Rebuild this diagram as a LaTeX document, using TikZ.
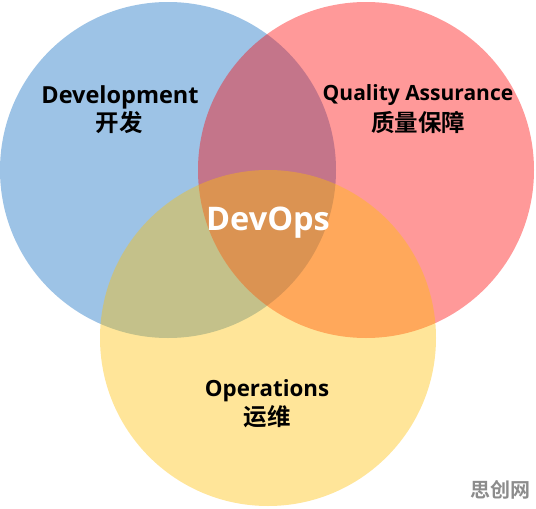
\documentclass[tikz,border=0pt]{standalone}
\usepackage{fontspec}
\setmainfont{Open Sans}[BoldFont={Open Sans Bold}]
\newfontfamily\cjk{Noto Sans CJK SC}[BoldFont={Noto Sans CJK SC Bold}]
\definecolor{devblue}{RGB}{157,195,230}
\definecolor{qared}{RGB}{255,0,0}
\definecolor{opsgold}{RGB}{255,192,0}
\definecolor{wmgray}{RGB}{140,140,140}
\begin{document}
\begin{tikzpicture}[x=1pt,y=-1pt,
  lbl/.style={font=\bfseries\fontsize{23.5}{26}\selectfont, text=black, align=center, inner sep=0pt},
  zh/.style={font=\cjk\bfseries\fontsize{23.5}{26}\selectfont, text=black, inner sep=0pt},
  circ/.style={circle, minimum size=336pt, inner sep=0pt}]
\useasboundingbox (0,0) rectangle (536,509);
\fill[white] (0,0) rectangle (536,509);
\node[circ, fill=devblue] (dev) at (168,170) {};
\node[circ, fill=qared, fill opacity=0.4] (qa) at (366,170) {};
\node[circ, fill=opsgold, fill opacity=0.4] (ops) at (268,338) {};
\node[lbl] (devt) at (120,97) {Development};
\node[zh] (devz) at (119,122.5) {开发};
\node[lbl, font=\bfseries\fontsize{21}{24}\selectfont] (qat) at (418,95) {Quality Assurance};
\node[zh] (qaz) at (418,122) {质量保障};
\node[lbl, font=\bfseries\fontsize{22.3}{25}\selectfont] (opst) at (267,391) {Operations};
\node[zh] (opsz) at (267,417) {运维};
\node[font=\bfseries\fontsize{32.5}{36}\selectfont, text=white, inner sep=0pt] (devops) at (268,223) {DevOps};
\node[font=\cjk\bfseries\fontsize{20}{22}\selectfont, text=wmgray, inner sep=0pt] (wm) at (500,490) {思创网};
\end{tikzpicture}
\end{document}
